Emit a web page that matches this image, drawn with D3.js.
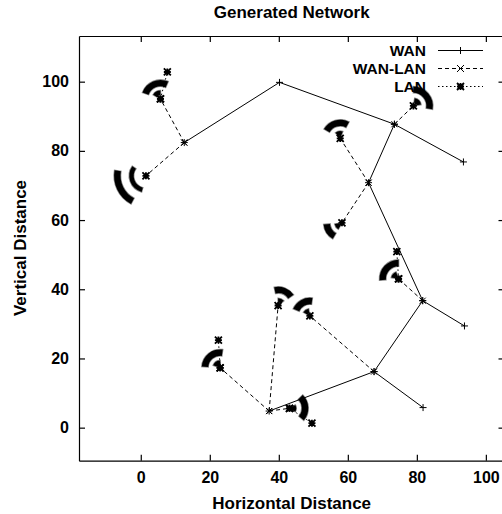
<!DOCTYPE html>
<html lang="en">
<head>
	<title>Generated Network</title>
	<script src="https://d3js.org/d3.v7.min.js" charset="utf-8"></script>
	<style>
		body { margin: 0; background: #fff; }
		text { font-family: "Liberation Sans", Arial, sans-serif; font-weight: bold; font-size: 15.5px; }
		.label { font-size: 17px; }
	</style>
</head>
<body>
	<script>
	// WAN backbone, one polyline per branch
	var wanPaths = [
		[[12.6, 82.4], [40.2, 99.8], [73.5, 87.7], [93.5, 76.8]],
		[[73.5, 87.7], [66.0, 70.8], [81.7, 36.7], [93.8, 29.4]],
		[[81.7, 36.7], [67.6, 16.2], [81.8, 5.8]],
		[[67.6, 16.2], [37.2, 4.8]]
	];

	// WAN router -> LAN gateway
	var wanLanLinks = [
		[[12.6, 82.4], [5.7, 95.0]],
		[[12.6, 82.4], [1.5, 72.8]],
		[[73.5, 87.7], [79.0, 93.0]],
		[[66.0, 70.8], [57.8, 83.6]],
		[[66.0, 70.8], [58.3, 59.2]],
		[[81.7, 36.7], [74.7, 43.0]],
		[[67.6, 16.2], [49.0, 32.3]],
		[[37.2, 4.8], [39.8, 35.3]],
		[[37.2, 4.8], [43.1, 5.6]],
		[[37.2, 4.8], [23.0, 17.3]]
	];

	// LAN gateways (arc centres) and their rings of hosts:
	// [start angle, end angle (deg, clockwise from up), radius]
	var lanGateways = [[5.7, 95.0], [1.5, 72.8], [79.0, 93.0], [57.8, 83.6], [58.3, 59.2],
		[74.7, 43.0], [49.0, 32.3], [39.8, 35.3], [43.1, 5.6], [23.0, 17.3]];
	var lanOuter = [[-70, 24, 4.6], [-152, -80, 8.3], [0, 100, 4.7], [-60, 28, 4.5], [-150, -95, 4.4],
		[-94, 0, 4.6], [-67, 8, 4.3], [-12, 55, 4.5], [45, 130, 4.5], [-86, 8, 4.4]];
	var lanInner = [[-60, 0, 1.8], [-165, -55, 4.2], [10, 80, 1.6], [-40, 20, 1.5], [-150, -100, 1.5],
		[-80, -20, 1.5], [-60, -10, 1.5], [0, 50, 1.5], [60, 120, 1.3], [-70, 0, 1.5]];

	// LAN hosts hanging off a gateway
	var lanLinks = [
		[[5.7, 95.0], [7.7, 102.8]],
		[[74.7, 43.0], [74.2, 50.9]],
		[[43.1, 5.6], [49.6, 1.3]],
		[[23.0, 17.3], [22.5, 25.3]]
	];

	var tickValsX = [0, 20, 40, 60, 80, 100];
	var tickValsY = [0, 20, 40, 60, 80, 100];

	var w = 502, h = 514;
	var svg = d3.select("body").append("svg")
		.attr("width", w)
		.attr("height", h);

	var x = d3.scaleLinear().domain([-17.9, 105.4]).range([79, 504.5]);
	var y = d3.scaleLinear().domain([-9.55, 113.2]).range([460.7, 36]);

	function markerPath(type, s) {
		var p = "";
		if (type == "plus" || type == "star") p += "M" + (-s) + ",0H" + s + "M0," + (-s) + "V" + s;
		if (type == "cross" || type == "star") p += "M" + (-s) + "," + (-s) + "L" + s + "," + s + "M" + (-s) + "," + s + "L" + s + "," + (-s);
		return p;
	}

	var line = d3.line().x(function(d) { return x(d[0]); }).y(function(d) { return y(d[1]); });

	// axes, ticks inward on all four sides
	svg.append("g")
		.attr("transform", "translate(0," + y.range()[0] + ")")
		.call(d3.axisBottom(x).tickValues(tickValsX).tickSize(-6).tickSizeOuter(0).tickPadding(11));
	svg.append("g")
		.attr("transform", "translate(0," + y.range()[1] + ")")
		.call(d3.axisTop(x).tickValues(tickValsX).tickSize(-6).tickSizeOuter(0).tickFormat(""));
	svg.append("g")
		.attr("transform", "translate(" + x.range()[0] + ",0)")
		.call(d3.axisLeft(y).tickValues(tickValsY).tickSize(-6).tickSizeOuter(0).tickPadding(10));
	svg.append("g")
		.attr("transform", "translate(" + x.range()[1] + ",0)")
		.call(d3.axisRight(y).tickValues(tickValsY).tickSize(-6).tickSizeOuter(0).tickFormat(""));
	svg.selectAll(".domain, .tick line").attr("stroke", "#000").attr("stroke-width", 1.2);
	svg.selectAll(".tick text")
		.attr("fill", "#000")
		.style("font-size", "16px")
		.style("font-family", "'Liberation Sans', Arial, sans-serif")
		.style("font-weight", "bold");

	var plot = svg.append("g");

	// LAN rings (dense host markers)
	function ring(half) {
		return d3.arc()
			.innerRadius(function(d) { return x(d[2]) - x(0) - half; })
			.outerRadius(function(d) { return x(d[2]) - x(0) + half; })
			.startAngle(function(d) { return d[0] * Math.PI / 180; })
			.endAngle(function(d) { return d[1] * Math.PI / 180; });
	}
	function drawRings(data, cls, half) {
		plot.selectAll("." + cls).data(data).enter().append("path")
			.attr("class", cls)
			.attr("transform", function(d, i) { return "translate(" + x(lanGateways[i][0]) + "," + y(lanGateways[i][1]) + ")"; })
			.attr("d", ring(half))
			.attr("fill", "#000")
			.attr("stroke", "#000")
			.attr("stroke-opacity", 0.45)
			.attr("stroke-width", 1.5);
	}
	drawRings(lanOuter, "outer", 3.2);
	drawRings(lanInner, "inner", 2.2);

	// LAN dotted links
	plot.selectAll(".lan").data(lanLinks).enter().append("path")
		.attr("class", "lan")
		.attr("d", line)
		.attr("fill", "none")
		.attr("stroke", "#000")
		.attr("stroke-dasharray", "1.5,2.5");

	// WAN-LAN dashed links
	plot.selectAll(".wanlan").data(wanLanLinks).enter().append("path")
		.attr("class", "wanlan")
		.attr("d", line)
		.attr("fill", "none")
		.attr("stroke", "#000")
		.attr("stroke-dasharray", "4,3");

	// WAN solid
	plot.selectAll(".wan").data(wanPaths).enter().append("path")
		.attr("class", "wan")
		.attr("d", line)
		.attr("fill", "none")
		.attr("stroke", "#000");

	// markers
	function addMarkers(pts, type, s, sw) {
		plot.append("g").selectAll("path").data(pts).enter().append("path")
			.attr("transform", function(d) { return "translate(" + x(d[0]) + "," + y(d[1]) + ")"; })
			.attr("d", markerPath(type, s))
			.attr("stroke", "#000")
			.attr("stroke-width", sw);
	}
	addMarkers(d3.merge(wanPaths), "plus", 3.5, 1);
	addMarkers(d3.merge(wanLanLinks), "cross", 3, 1);
	addMarkers(lanGateways, "star", 3.5, 1.8);
	addMarkers(d3.merge(lanLinks), "star", 3.5, 1.8);

	// legend
	var legend = [
		{ name: "WAN", dash: null, mark: "plus", sw: 1 },
		{ name: "WAN-LAN", dash: "4,3", mark: "cross", sw: 1 },
		{ name: "LAN", dash: "1.5,2.5", mark: "star", sw: 1.8 }
	];
	var lg = svg.append("g").selectAll("g").data(legend).enter().append("g")
		.attr("transform", function(d, i) { return "translate(0," + (50.5 + i * 18) + ")"; });
	lg.append("text")
		.attr("x", 426)
		.attr("dy", "0.36em")
		.attr("text-anchor", "end")
		.text(function(d) { return d.name; });
	lg.append("line")
		.attr("x1", 438).attr("x2", 483)
		.attr("stroke", "#000")
		.attr("stroke-dasharray", function(d) { return d.dash; });
	lg.append("path")
		.attr("transform", "translate(460.5,0)")
		.attr("d", function(d) { return markerPath(d.mark, 3.5); })
		.attr("stroke", "#000")
		.attr("stroke-width", function(d) { return d.sw; });

	// title and axis labels
	svg.append("text")
		.attr("class", "label")
		.attr("x", 291.7).attr("y", 17.5)
		.attr("text-anchor", "middle")
		.text("Generated Network");
	svg.append("text")
		.attr("class", "label")
		.attr("x", 291.7).attr("y", 509)
		.attr("text-anchor", "middle")
		.text("Horizontal Distance");
	svg.append("text")
		.attr("class", "label")
		.attr("text-anchor", "middle")
		.attr("transform", "translate(25.7,248) rotate(-90)")
		.text("Vertical Distance");
	</script>
</body>
</html>
